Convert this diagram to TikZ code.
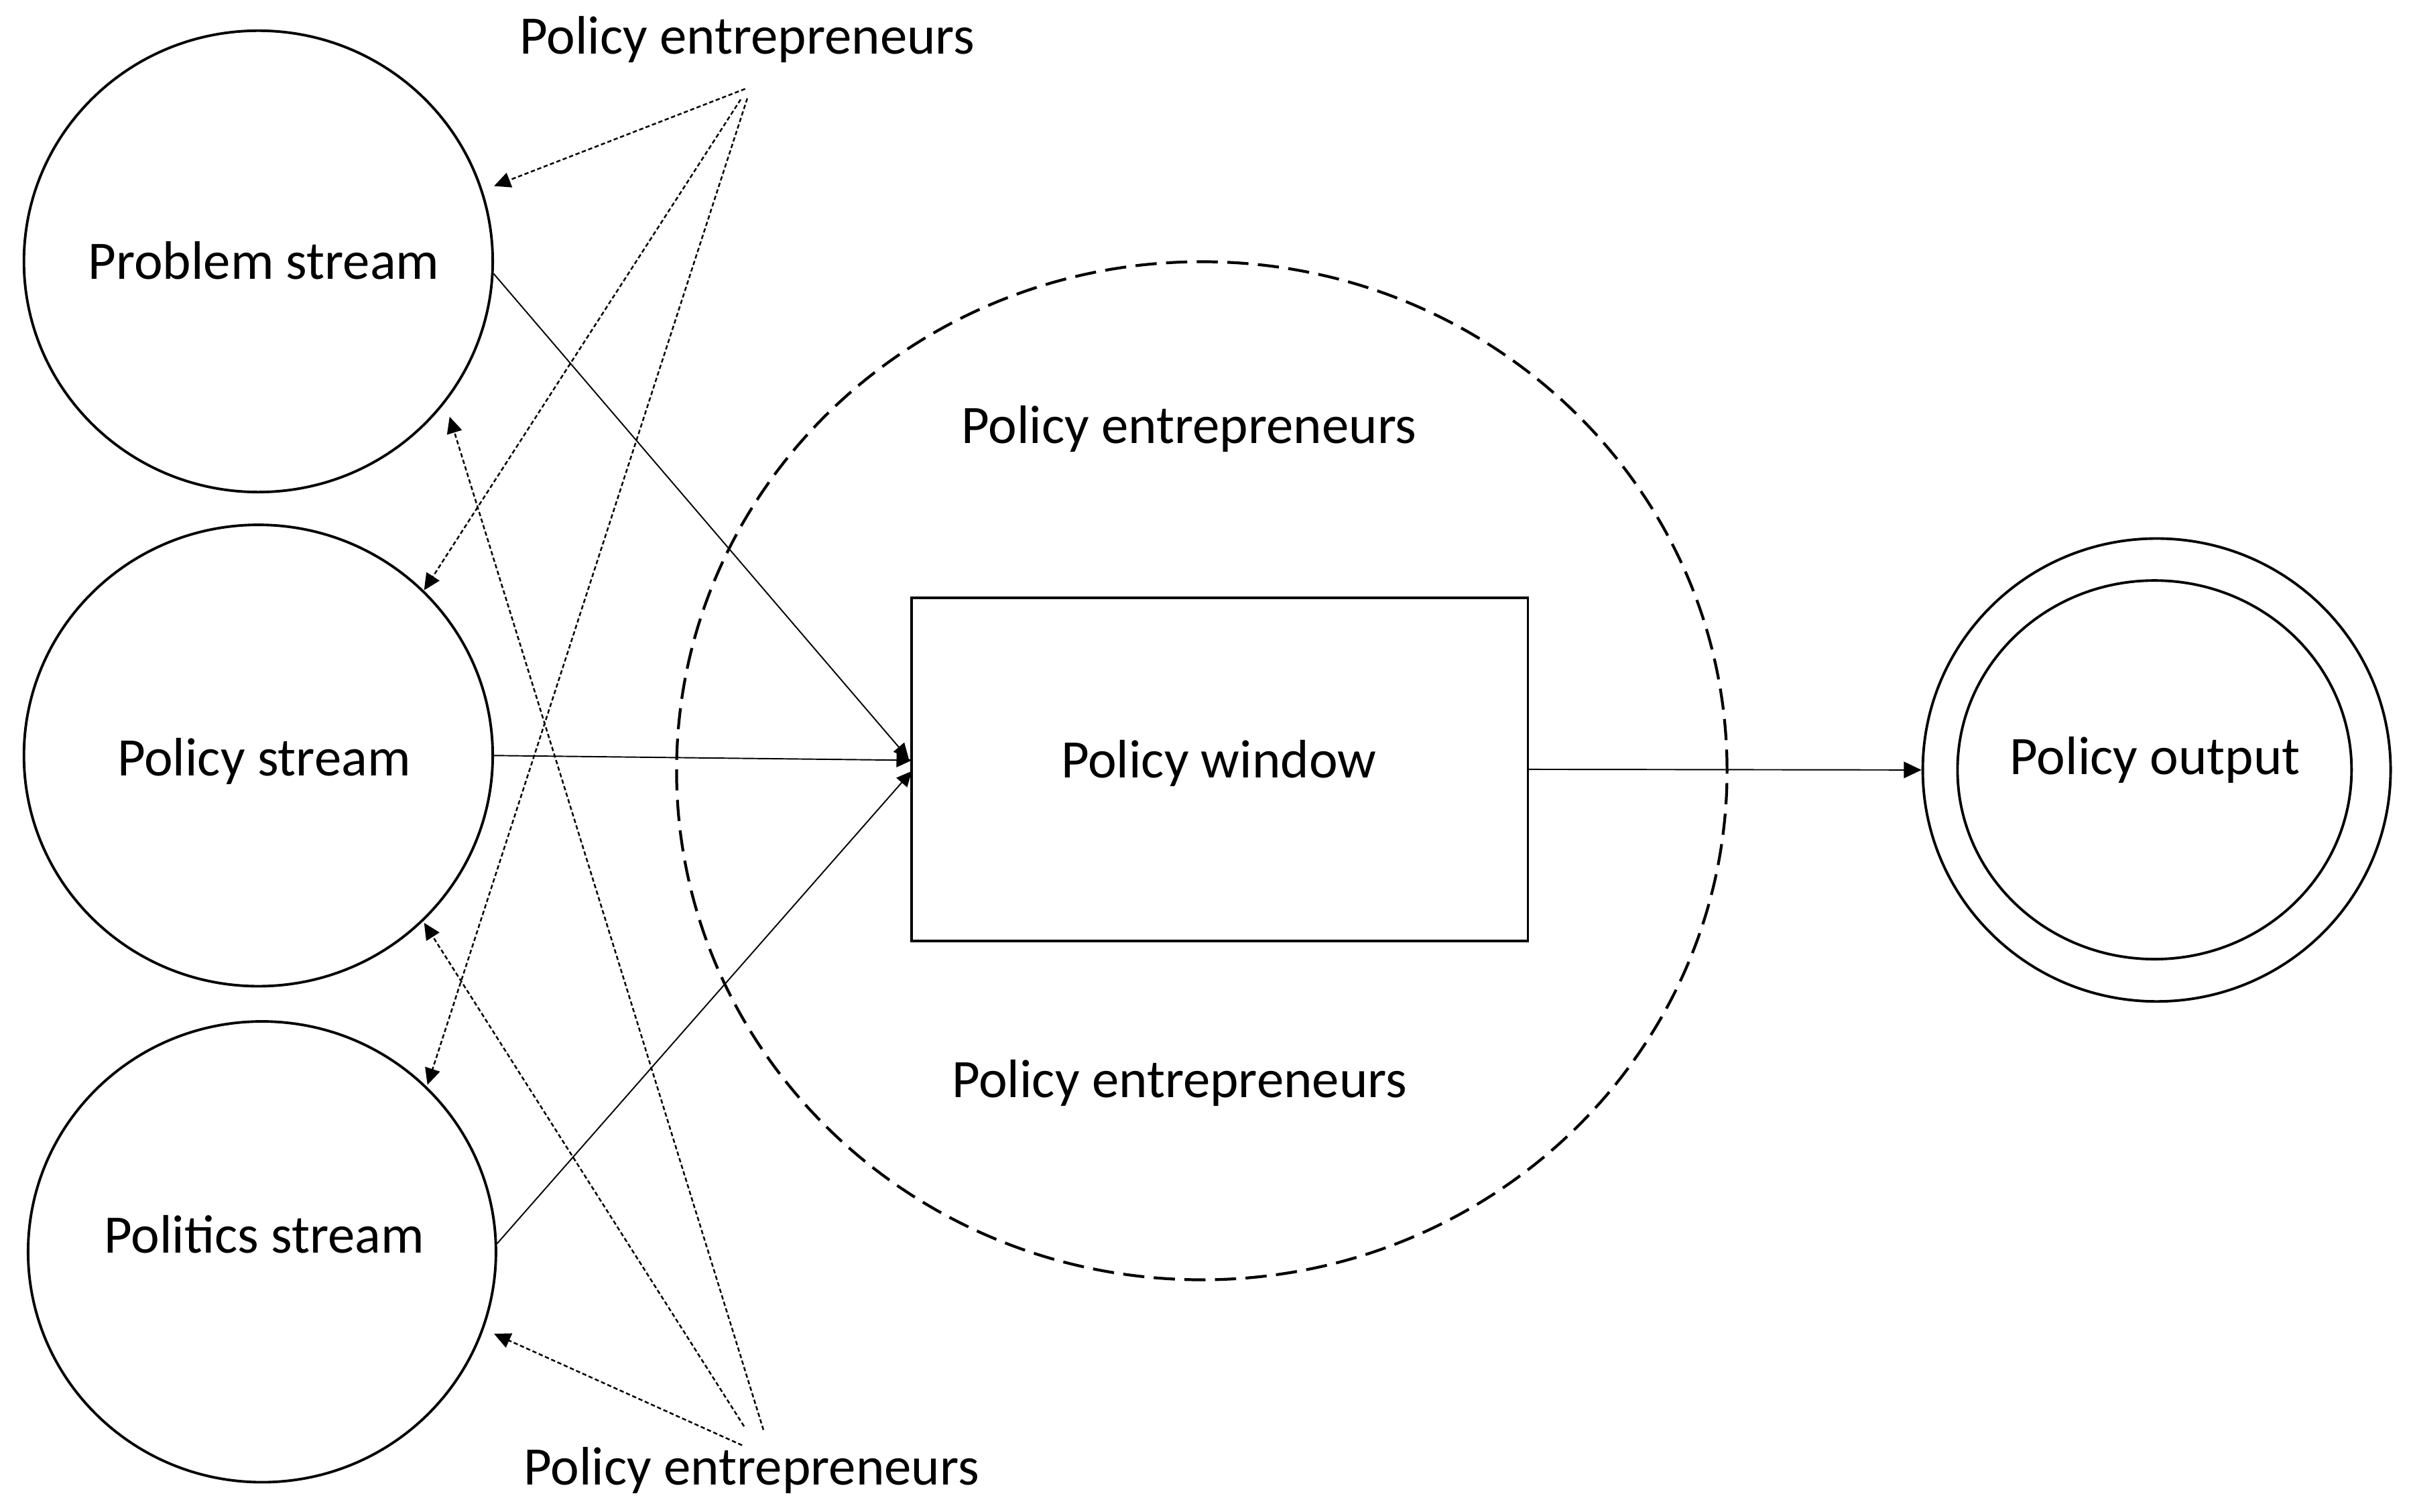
\documentclass[tikz,border=0pt]{standalone}
\usepackage{fontspec}
\setmainfont{Carlito}
\usetikzlibrary{arrows.meta,shapes.geometric}
\begin{document}
\begin{tikzpicture}[x=0.02294cm,y=-0.02294cm,
  stream/.style={draw,ellipse,line width=1.1pt,inner sep=0pt},
  lbl/.style={font=\fontsize{23}{27}\selectfont,anchor=base,inner sep=0pt},
  flow/.style={line width=0.55pt,-{Triangle[length=6.5pt,width=6pt]}},
  infl/.style={line width=0.7pt,dash pattern=on 1.8pt off 1.1pt,-{Triangle[length=7pt,width=6.5pt]}},
]
\useasboundingbox (0,0) rectangle (1568,983);
\fill[white] (0,0) rectangle (1568,983);

% shapes
\node[stream,minimum width=6.992cm,minimum height=6.882cm] (prob) at (168,170) {};
\node[stream,minimum width=6.992cm,minimum height=6.882cm] (pol) at (168,491.4) {};
\node[stream,minimum width=6.978cm,minimum height=6.873cm] (polit) at (170.4,814.2) {};
\node[draw,ellipse,line width=1.2pt,dash pattern=on 9pt off 4pt,inner sep=0pt,
      minimum width=15.668cm,minimum height=15.186cm] (win) at (781.6,501.3) {};
\node[draw,rectangle,line width=1pt,inner sep=0pt,
      minimum width=9.192cm,minimum height=5.120cm] (box) at (793.2,500.4) {};
\node[stream,minimum width=6.978cm,minimum height=6.905cm] (outc) at (1402.6,500.8) {};
\node[stream,minimum width=5.877cm,minimum height=5.648cm] (inc) at (1401.2,500.7) {};

% labels
\node[lbl] (tprob) at (171.5,181.5) {Problem stream};
\node[lbl] (tpol) at (171.7,504.5) {Policy stream};
\node[lbl] (tpolit) at (171.8,815) {Politics stream};
\node[lbl] (twin) at (792.6,506) {Policy window};
\node[lbl] (tout) at (1401.6,503.7) {Policy output};
\node[lbl] (pe1) at (485.9,34.9) {Policy entrepreneurs};
\node[lbl] (pe2) at (773.3,288.3) {Policy entrepreneurs};
\node[lbl] (pe3) at (767,714) {Policy entrepreneurs};
\node[lbl] (pe4) at (488.7,965.6) {Policy entrepreneurs};

% connector end points
\coordinate (T1) at (484.6,57.8);
\coordinate (T2) at (481.7,64.7);
\coordinate (T3) at (486,64);
\coordinate (B1) at (482.6,940);
\coordinate (B2) at (483.9,927.7);
\coordinate (B3) at (496.5,930);
\coordinate (aP1) at (321.3,121);
\coordinate (aP2) at (292.4,271);
\coordinate (aL1) at (275.8,383.9);
\coordinate (aL2) at (275.8,600.2);
\coordinate (aT1) at (278,705.6);
\coordinate (aT2) at (321.3,867.5);
\coordinate (w1) at (591,493.5);
\coordinate (w2) at (593,494.5);
\coordinate (w3) at (593,501.5);

% solid flows
\draw[flow] (prob.-3) -- (w1);
\draw[flow] (pol.east) -- (w2);
\draw[flow] (polit.2.6) -- (w3);
\draw[line width=0.55pt,-{Triangle[length=7.5pt,width=7pt]}] (box.east) -- (outc.west);

% entrepreneurs' influence
\draw[infl] (T1) -- (aP1);
\draw[infl] (T2) -- (aL1);
\draw[infl] (T3) -- (aT1);
\draw[infl] (B1) -- (aT2);
\draw[infl] (B2) -- (aL2);
\draw[infl] (B3) -- (aP2);
\end{tikzpicture}
\end{document}
